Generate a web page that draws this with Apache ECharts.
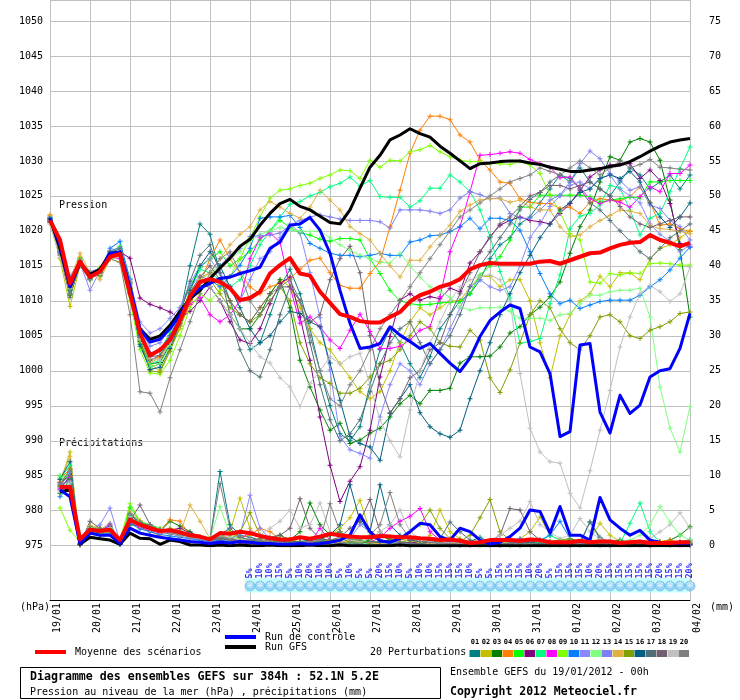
<!DOCTYPE html>
<html>
<head>
<meta charset="utf-8">
<script src="https://cdn.jsdelivr.net/npm/echarts@6/dist/echarts.min.js"></script>
<style>
  html, body { margin: 0; padding: 0; background: #fff; }
  #chart { width: 740px; height: 700px; }
</style>
</head>
<body>
<div id="chart"></div>
<script>
// time steps: every 6 h from 19/01 00h to 04/02 00h
const HOURS = Array.from({ length: 65 }, (_, i) => i * 6);
const DATE_LABELS = ['19/01', '20/01', '21/01', '22/01', '23/01', '24/01', '25/01', '26/01', '27/01',
  '28/01', '29/01', '30/01', '31/01', '01/02', '02/02', '03/02', '04/02'];

// pressure (hPa)
const MEAN_P = [1021.5, 1018.7, 1012.5, 1015.6, 1013.4, 1014.2, 1016.3, 1016.7,
  1011, 1005.4, 1002.2, 1003, 1004.4, 1007.2, 1010.6, 1012.7,
  1013.1, 1012.7, 1011.8, 1010.1, 1010.4, 1011.3, 1013.9, 1015.1,
  1016.1, 1013.9, 1013.6, 1011.3, 1009.7, 1008.1, 1007.7, 1007.1,
  1006.9, 1006.9, 1007.7, 1008.4, 1009.9, 1010.8, 1011.3, 1012,
  1012.4, 1013.1, 1014.5, 1015.1, 1015.4, 1015.3, 1015.3, 1015.3,
  1015.3, 1015.6, 1015.7, 1015.3, 1015.8, 1016.3, 1016.8, 1016.9,
  1017.5, 1018, 1018.3, 1018.4, 1019.4, 1018.7, 1018.3, 1017.8, 1018.3];
const GFS_P = [1021.8, 1017.5, 1012, 1015.4, 1013.8, 1014.5, 1016.8, 1016.6,
  1011, 1006, 1004.5, 1005, 1006.5, 1008.5, 1010.3, 1011.5,
  1013.2, 1014.7, 1016.1, 1017.8, 1018.8, 1020.8, 1022.5, 1023.9,
  1024.5, 1023.5, 1023, 1022.1, 1021.2, 1021, 1023, 1026.1,
  1029.1, 1030.8, 1033, 1033.7, 1034.6, 1033.9, 1033.4, 1032.1,
  1031.1, 1030, 1028.9, 1029.6, 1029.7, 1029.9, 1030, 1030,
  1029.7, 1029.5, 1029.1, 1028.8, 1028.5, 1028.5, 1028.7, 1028.9,
  1029.2, 1029.4, 1029.9, 1030.6, 1031.4, 1032.1, 1032.7, 1033, 1033.2];
const CONTROL_P = [1021.8, 1018, 1012, 1015.5, 1013.5, 1014.2, 1016.8, 1017,
  1012, 1006, 1004.1, 1004.5, 1006, 1008, 1010.5, 1011.8,
  1012.5, 1013.2, 1013.4, 1013.9, 1014.3, 1014.8, 1017.5, 1018.4,
  1020.8, 1021, 1021.9, 1020.1, 1016.8, 1011.5, 1006.8, 1003.2,
  1003.4, 1003.9, 1006.3, 1005.1, 1004.2, 1003.2, 1003.9, 1002.5,
  1001.1, 999.9, 1001.8, 1004.9, 1007.2, 1008.4, 1009.4, 1008.9,
  1003.4, 1002.7, 999.6, 990.6, 991.3, 1003.7, 1003.9, 994.1,
  991.1, 996.5, 993.9, 995.1, 999.1, 1000, 1000.3, 1003.2, 1008.2];

const P01 = [1022, 1017.5, 1011, 1015.8, 1013, 1014.5, 1017, 1017, 1011, 1003.5, 1000.5, 1001, 1004, 1008, 1015, 1021,
  1019.5, 1014, 1010, 1006, 1003, 1004, 1008, 1012, 1014.5,
  1011, 1006, 1000, 995, 991, 990, 992, 998,
  1003, 1006, 1004, 1001, 999, 1002, 1006, 1008,
  1010, 1011, 1013, 1016, 1018, 1019, 1021, 1022,
  1024, 1026, 1028, 1027, 1029, 1027, 1026, 1025,
  1027, 1029, 1028, 1026, 1027, 1028, 1026, 1028];
const P02 = [1021.2, 1016, 1009.2, 1015, 1014, 1013.5, 1016, 1016.5, 1012.5, 1006, 1001, 1000, 1003, 1006, 1010, 1013,
  1014, 1012, 1010, 1008, 1007, 1009, 1011, 1013, 1012,
  1009, 1006, 1004, 1003, 1001, 999, 997, 996,
  997, 1000, 1004, 1007, 1009, 1008, 1009, 1010,
  1010, 1012, 1013.5, 1013.5, 1012, 1013, 1013, 1010,
  1004, 999, 1005, 1008, 1010, 1011, 1013.5, 1012,
  1014, 1014, 1013, 1016, 1017.5, 1018, 1019, 1020];
const P03 = [1021.4, 1017, 1010.8, 1015.2, 1013.8, 1013.6, 1016.4, 1016.4, 1011.8, 1004.2, 1001, 1001.2, 1003.8, 1007.2, 1010.2, 1012.2,
  1012, 1010, 1008, 1006, 1006, 1008, 1011, 1013, 1009,
  1001.5, 997.7, 994.4, 991.5, 992.5, 989.6, 990.1, 991.1,
  991.8, 993.4, 995.3, 996.5, 995.3, 997.2, 997.2, 997.5,
  1001.1, 1002, 1002, 1002.1, 1003.4, 1005.4, 1006.3, 1008,
  1009.1, 1010.6, 1012.7, 1016.8, 1020.6, 1023, 1027, 1030.6,
  1030.1, 1032.7, 1033.2, 1032.7, 1030.1, 1024.4, 1017.3, 1007.7];
const P04 = [1022.3, 1017.5, 1012, 1016.2, 1013.5, 1013.8, 1016.5, 1016.8, 1012, 1004, 1001.5, 1002, 1004, 1006.5, 1009.5, 1012.5,
  1016, 1018.7, 1016, 1014, 1012, 1011, 1012, 1012.5, 1013.2,
  1014.5, 1015.8, 1016.1, 1014, 1012.2, 1011.8, 1011.8, 1013.9,
  1015.6, 1020.6, 1025.8, 1031.1, 1034.4, 1036.4, 1036.4, 1035.9,
  1033.7, 1032.7, 1030.1, 1028.7, 1027, 1026.8, 1024.6, 1024.1,
  1023.9, 1023.9, 1023.2, 1023.4, 1022.5, 1024.1, 1024.6, 1024.4,
  1024.3, 1024.9, 1026.3, 1024.1, 1020.8, 1021, 1020.3, 1019.9];
const P05 = [1021.5, 1017.3, 1013.3, 1016, 1013.4, 1014.4, 1016.9, 1017.8, 1013.2, 1005.6, 1002.5, 1002.8, 1005.5, 1008.5, 1012, 1014.8,
  1016, 1017, 1015, 1016, 1017, 1018.7, 1020, 1021.5, 1020.5,
  1019.7, 1019.4, 1018.8, 1018.5, 1018.9, 1018.9, 1018.7, 1016,
  1013.9, 1011.5, 1010, 1009.6, 1009.4, 1009.5, 1009.7, 1009.8,
  1009.9, 1011, 1013.7, 1015, 1016.3, 1018.7, 1023.4, 1023.4,
  1025.1, 1025.1, 1025.1, 1025.1, 1025.1, 1024.9, 1024.1, 1024.4,
  1024.6, 1024.8, 1024.7, 1027, 1027, 1027.2, 1027.2, 1027.2];
const P06 = [1021.4, 1017.2, 1012.8, 1015.6, 1013.5, 1014, 1016.5, 1017, 1016.1, 1010.4, 1009.5, 1009, 1008.4, 1007.5, 1008.5, 1010,
  1012, 1010, 1007, 1004.4, 1003.9, 1006, 1009.6, 1012.5, 1013.4,
  1007.7, 1001.5, 993.4, 986.5, 981.3, 984.2, 986.3, 991.5,
  999.1, 1004.9, 1010.1, 1011, 1010.1, 1010.6, 1010.3, 1011.8,
  1011.3, 1015.4, 1017, 1019.2, 1020.8, 1021.5, 1022, 1021.5,
  1021.3, 1021, 1022.5, 1023.9, 1025.8, 1027.7, 1028.7, 1029.4,
  1029.6, 1029.6, 1027.5, 1028.7, 1027.2, 1023.9, 1018.2, 1017.7];
const P07 = [1021.6, 1017.2, 1011.5, 1015, 1013.2, 1014, 1016.8, 1017.5, 1012.5, 1004.5, 1001, 1001.5, 1004, 1007.5, 1011.5, 1014.5,
  1014, 1013, 1012, 1013, 1015, 1018, 1020, 1022, 1023.8,
  1024.2, 1025, 1025.5, 1026.3, 1026.8, 1027.7, 1026.4, 1027.2,
  1024.9, 1024.8, 1024.8, 1023.4, 1024.3, 1026.1, 1026.1, 1028,
  1027, 1025.6, 1023, 1019.2, 1014.2, 1010.4, 1003.9, 1004.2,
  1004.6, 1009.6, 1013.7, 1020.3, 1022.1, 1022.5, 1023.7, 1026.5,
  1026.1, 1023, 1019.4, 1021.8, 1022.5, 1025.6, 1028.9, 1032];
const P08 = [1021.2, 1017, 1012.5, 1015.5, 1013.8, 1014.2, 1016.2, 1016, 1011.5, 1005.5, 1002.5, 1003, 1005, 1007, 1009.5, 1010.5,
  1008, 1007, 1008, 1010, 1016, 1019, 1019.7, 1018.4, 1012,
  1006.8, 1007.7, 1006.3, 1004.4, 1003.2, 1005.8, 1008.1, 1005.6,
  1003.2, 1003.2, 1003.5, 1004.4, 1005.8, 1006.3, 1010.6, 1017,
  1020.6, 1025.6, 1030.8, 1030.9, 1031.1, 1031.3, 1031.1, 1030.2,
  1029.6, 1029.1, 1027.6, 1027.7, 1026.1, 1024.6, 1023.9, 1024.4,
  1024.1, 1023.4, 1024.9, 1026.3, 1025.6, 1028.2, 1028.2, 1029.4];
const P09 = [1021, 1016.5, 1011.5, 1015.8, 1013, 1014.8, 1016, 1015.5, 1010, 1003, 999.7, 999.5, 1001.5, 1005, 1009, 1011,
  1010, 1011.5, 1013.5, 1016, 1019, 1022, 1024.7, 1025.8, 1026,
  1026.5, 1026.8, 1027.5, 1028, 1028.7, 1028.6, 1027.5, 1030.1,
  1029.1, 1030.1, 1030, 1031.3, 1031.6, 1032.2, 1031.3, 1030.6,
  1030.1, 1029.9, 1029.9, 1029.6, 1029.6, 1029.5, 1029.9, 1029.4,
  1028.2, 1025.1, 1022.7, 1019.6, 1018.7, 1012.7, 1012.5, 1013.9,
  1013.7, 1014, 1013.9, 1015.3, 1015.4, 1015.3, 1015.1, 1015.1];
const P10 = [1021.8, 1017, 1012.5, 1015.2, 1013.8, 1014.3, 1017.5, 1018.5, 1013, 1005, 1002.5, 1003, 1005, 1008, 1011, 1012.5,
  1013, 1012, 1013.5, 1015.1, 1017.5, 1021.8, 1022, 1022, 1022.2,
  1020.5, 1018.2, 1017.5, 1016.8, 1016.5, 1016.5, 1016.3, 1016.5,
  1016.8, 1016.5, 1016.5, 1018.4, 1018.7, 1019.3, 1019.4, 1019.9,
  1020.6, 1021.8, 1020.3, 1021.8, 1021.8, 1021.5, 1020.1, 1017,
  1013.9, 1011, 1009.6, 1010.1, 1008.9, 1009.4, 1009.9, 1010.1,
  1010.1, 1010.1, 1010.8, 1012, 1013, 1014.4, 1016.1, 1017.7];
const P11 = [1021.7, 1016.5, 1013.2, 1015.4, 1011.5, 1014.3, 1016.8, 1016.6, 1013, 1007, 1005.4, 1006, 1007.5, 1009, 1012.5, 1015,
  1016, 1014, 1012, 1010, 1013, 1016, 1017, 1019, 1021,
  1019.7, 1014, 1007.6, 1000.1, 990.6, 988.7, 988.2, 987.5,
  993.4, 998, 1001, 1000, 998, 1001, 1003, 1006,
  1009, 1012, 1013, 1012, 1011.5, 1012, 1015, 1019,
  1021, 1023.5, 1025, 1026.5, 1027, 1026, 1027.5, 1028,
  1026, 1025, 1024, 1021, 1019.5, 1018.5, 1017, 1018];
const P12 = [1021.3, 1017.2, 1012.2, 1015.5, 1013.6, 1014.1, 1016.6, 1016.3, 1011.5, 1004, 1000.5, 1001, 1003.5, 1007, 1010.5, 1013,
  1014, 1015, 1016, 1017, 1018.5, 1019.5, 1020, 1020.5, 1020.1,
  1020, 1019.9, 1020, 1019, 1018, 1017.2, 1016.5, 1016,
  1015.5, 1015.4, 1016.8, 1015, 1013.4, 1012, 1011.3, 1010.5,
  1009.1, 1008.7, 1009, 1009, 1009.1, 1008.5, 1007.5, 1007.5,
  1007.5, 1007.2, 1008, 1008.2, 1009.6, 1010.8, 1010.8, 1011.3,
  1011.5, 1011.5, 1011.8, 1007.7, 997.7, 991.8, 988.4, 994.9];
const P13 = [1021.9, 1017.8, 1013.5, 1015.8, 1014.2, 1014.6, 1017.2, 1017.6, 1012.8, 1006, 1003.5, 1004, 1006, 1009, 1012, 1013.5,
  1013, 1015, 1016.5, 1017.5, 1019.2, 1019.3, 1019.4, 1019.7, 1020.8,
  1021.5, 1022, 1022.3, 1022, 1021.7, 1021.5, 1021.5, 1021.5,
  1021.3, 1020.4, 1023, 1023, 1023, 1022.8, 1022.5, 1023,
  1024.7, 1025.6, 1025.2, 1024.6, 1024.7, 1022.5, 1021.8, 1021.8,
  1023, 1024.4, 1025.1, 1027, 1029.6, 1031.4, 1030.3, 1028.2,
  1027.2, 1025.8, 1026.3, 1023.7, 1023.2, 1021.5, 1020.6, 1018.7];
const P14 = [1022.2, 1017.8, 1013, 1016.8, 1014, 1013, 1016, 1016.3, 1011.7, 1004.7, 1001.2, 1001.8, 1004.4, 1007.8, 1011.3, 1013.3,
  1014, 1016, 1018, 1019.5, 1020.6, 1023, 1024.2, 1023.4, 1022.5,
  1021.8, 1023.4, 1025.8, 1024.4, 1023, 1020.6, 1019.6, 1018.7,
  1016.8, 1015, 1013.4, 1015.8, 1015.8, 1017.7, 1019.4, 1020.8,
  1022.8, 1023.7, 1024.4, 1024.6, 1024.6, 1024.1, 1024.4, 1023.4,
  1023, 1023, 1020.6, 1019.2, 1019.4, 1020.6, 1021.5, 1022.2,
  1023, 1022.8, 1022.5, 1020.8, 1020.3, 1020.2, 1019.9, 1019.6];
const P15 = [1021.7, 1017.4, 1012, 1015.3, 1013.1, 1014.2, 1016.6, 1016.5, 1011.6, 1004.4, 1000, 999.8, 1002.8, 1006.4, 1010, 1012.5,
  1013, 1011, 1009, 1008, 1007, 1008, 1010, 1012, 1010,
  1004, 1001, 999, 998.2, 996.8, 996.8, 997.5, 999.1,
  1001, 1001.5, 1003, 1005, 1007, 1006, 1004, 1003.5,
  1003.4, 1005.8, 1004.4, 999, 996.9, 1000.1, 1004, 1008,
  1010, 1009, 1006, 1004, 1003, 1005, 1007.7, 1008,
  1007, 1005, 1004.6, 1005.8, 1006.3, 1007, 1008.2, 1008.4];
const P16 = [1021.8, 1017.6, 1011.5, 1015.4, 1013.2, 1014, 1016.4, 1016.7, 1011.2, 1003.8, 1000.2, 1000.5, 1003.2, 1006.8, 1011.5, 1015,
  1017, 1015, 1012, 1009, 1006, 1004, 1005, 1007, 1008.5,
  1008.2, 1007, 1006.3, 1001.1, 995.8, 990.6, 989.6, 989.1,
  987.2, 993.9, 996, 998, 994, 992, 991, 990.5,
  991.5, 996, 1000, 1004, 1008, 1011, 1014, 1016.5,
  1019, 1021, 1023, 1024, 1025.5, 1026, 1027.5, 1028,
  1027.5, 1028.5, 1027, 1024, 1022, 1020.5, 1022, 1024];
const P17 = [1021.3, 1016.7, 1010.5, 1015.3, 1013.4, 1014.6, 1017, 1017.4, 1012.6, 1004.8, 1001.5, 1002.2, 1004.6, 1008, 1012.8, 1016.5,
  1018, 1014, 1008, 1003, 1000, 999.1, 1003, 1008, 1012,
  1010, 1004, 998, 993, 990, 991, 993, 997,
  1001, 1004, 1006, 1007, 1004, 1001, 1003, 1005,
  1008, 1012, 1015, 1017, 1019, 1021, 1023, 1024.5,
  1025.5, 1027, 1028, 1027.5, 1026, 1024, 1023, 1021.5,
  1020, 1018.5, 1017, 1016, 1017.5, 1019, 1020, 1021];
const P18 = [1021.6, 1017.3, 1012.3, 1015.7, 1013.7, 1014.3, 1016.7, 1016.8, 1012.3, 1005.2, 1002, 1002.2, 1004.3, 1007.3, 1011.2, 1013.4,
  1015, 1013, 1010, 1008, 1007, 1009, 1011, 1012, 1012,
  1010, 1007, 1008, 1013, 1016, 1017.8, 1014, 1005,
  998, 994, 996, 999, 1000, 1003, 1004, 1008,
  1011, 1014, 1017, 1019, 1021, 1022, 1023.5, 1025,
  1025.5, 1026.5, 1026.5, 1026, 1026.5, 1027, 1026, 1025,
  1023.5, 1022, 1021, 1020.5, 1021, 1021.5, 1022, 1022];
const P19 = [1021, 1016.2, 1011.8, 1015.2, 1013.3, 1013.8, 1016, 1016.2, 1011, 1004.5, 1001.8, 1001.5, 1004, 1007, 1010.5, 1012.5,
  1012, 1010, 1008, 1006, 1004, 1002, 1001.1, 999, 997.7,
  994.9, 998.2, 1000, 1002, 1001, 1002, 1002.5, 998,
  993, 990, 987.7, 994.4, 1000, 1004, 1007, 1010,
  1012, 1013, 1013.5, 1013.7, 1013, 1010, 999.6, 991.8,
  988.4, 987, 986.8, 982.5, 980.4, 985.7, 991.5, 997.2,
  1003.4, 1007.7, 1011, 1012.2, 1011.3, 1009.9, 1011, 1014.8];
const P20 = [1021.5, 1016.8, 1011, 1015, 1013, 1014.5, 1016, 1015.5, 1008, 997, 996.8, 994.1, 999, 1003, 1007, 1011,
  1014, 1016, 1017, 1014, 1010, 1008, 1010, 1012, 1013,
  1010, 1005, 1000, 996, 995, 998, 1000, 1003,
  1006, 1008, 1010, 1012, 1014, 1016, 1018, 1020,
  1022, 1023, 1024, 1025, 1026, 1027, 1027.5, 1028,
  1029, 1028.5, 1028, 1029, 1030, 1029, 1028, 1029,
  1030, 1029, 1029.5, 1030.2, 1029.1, 1029, 1028.8, 1028.7];

// precipitation (mm per 6 h), none at the first step
const MEAN_R = [null, 8.4, 8.4, 0.9, 2.3, 2.1, 2.3, 0.8, 3.7,
  3.0, 2.5, 2.1, 2.2, 1.9, 1.5, 1.3, 0.9,
  1.8, 1.7, 2.0, 1.8, 1.4, 1.1, 0.9, 0.9,
  1.2, 1.0, 1.3, 1.7, 1.5, 1.3, 1.2, 1.2,
  1.4, 1.3, 1.2, 1.2, 1.05, 1.0, 0.8, 0.9,
  0.7, 0.4, 0.5, 0.8, 0.8, 0.8, 0.7, 0.9,
  0.8, 0.5, 0.5, 0.5, 0.7, 0.5, 0.6, 0.6,
  0.4, 0.5, 0.6, 0.4, 0.4, 0.4, 0.5, 0.5];
const GFS_R = [null, 7.7, 8.0, 0.2, 1.2, 1.0, 0.8, 0.2, 1.8,
  1.05, 1.0, 0.2, 0.8, 0.6, 0.1, 0.1, 0,
  0.1, 0, 0.1, 0, 0, 0.1, 0, 0,
  0, 0.1, 0, 0, 0.1, 0, 0, 0,
  0, 0, 0.1, 0, 0, 0, 0, 0,
  0, 0, 0, 0, 0, 0, 0, 0,
  0, 0, 0, 0, 0, 0, 0, 0,
  0, 0, 0, 0, 0, 0, 0, 0];
const CONTROL_R = [null, 8, 7, 0.3, 1.8, 1.5, 1.5, 0.3, 2.5,
  1.8, 1.5, 1.2, 1.0, 0.8, 0.6, 0.5, 0.3,
  0.5, 0.4, 0.6, 0.5, 0.3, 0.3, 0.2, 0.2,
  0.3, 0.2, 0.3, 0.5, 0.8, 1.5, 4.4, 2.0,
  0.7, 0.5, 1.0, 2.0, 3.2, 3.0, 1.3, 0.8,
  2.5, 2.0, 0.8, 0.25, 0.5, 1.3, 2.5, 5.1,
  4.9, 1.8, 5.6, 1.5, 1.5, 0.8, 6.9, 3.7,
  2.5, 1.5, 2.2, 0.8, 0.5, 0.3, 0.4, 0.3];

const R01 = [null, 8.5, 10.5, 0.2, 2.5, 2.2, 2.8, 0.4, 4.5, 3.2, 2.6, 2.0, 2.4, 1.8, 1.4, 1.2, 0.8,
  10.6, 3, 1.5, 1.2, 0.8, 0.5, 0.4, 0.6, 0.5, 0.3, 0.8, 0.6, 0.4, 0.3, 0.5, 0.6,
  0.3, 0.2, 0.5, 0.8, 0.4, 0.3, 0.2, 0.4, 0.3, 0.6, 1.2, 0.5, 0.3, 0.8, 0.4, 0.3,
  0.2, 0.6, 0.5, 0.4, 0.3, 3.4, 1.0, 0.4, 0.3, 0.2, 0.5, 0.3, 0.2, 0.4, 0.3, 0.2];
const R02 = [null, 9, 13.4, 0.1, 2.8, 2.5, 2.0, 0.5, 3.5, 2.5, 2.0, 1.5, 2.5, 2.2, 1.6, 1.0, 0.6,
  1.2, 2.0, 6.8, 2.5, 1.0, 0.6, 0.4, 0.8, 0.6, 0.4, 0.8, 1.5, 2.5, 4.0, 6.5, 2.0,
  0.8, 0.5, 1.0, 0.6, 0.4, 1.5, 5.1, 2.0, 1.0, 0.5, 0.3, 0.6, 0.4, 0.3, 1.0, 2.0,
  4.1, 1.5, 0.8, 0.5, 0.6, 1.0, 3.2, 1.5, 0.6, 0.4, 0.3, 0.8, 0.5, 0.3, 0.6, 0.8];
const R03 = [null, 7.5, 9.5, 0.3, 2.0, 1.5, 2.5, 0.2, 3.0, 2.8, 2.2, 2.0, 3.5, 2.8, 2.0, 1.2, 1.0,
  1.5, 1.0, 0.8, 0.5, 0.3, 1.0, 1.5, 0.8, 2.0, 6.1, 3.0, 1.5, 2.0, 1.0, 0.5, 0.8,
  1.5, 0.8, 0.5, 0.3, 0.5, 0.8, 0.4, 0.3, 0.2, 0.5, 0.3, 0.4, 0.2, 0.3, 0.5, 0.4,
  0.3, 0.2, 0.4, 0.8, 0.6, 0.3, 0.2, 0.5, 0.8, 0.4, 0.3, 0.2, 0.5, 0.8, 1.5, 2.7];
const R04 = [null, 9.5, 11, 0.2, 2.3, 2.0, 1.8, 0.3, 3.8, 3.0, 2.5, 2.2, 3.7, 3.5, 1.5, 1.2, 1.0,
  1.5, 2.0, 1.2, 1.5, 2.5, 2.0, 1.0, 0.8, 0.5, 0.3, 0.5, 0.4, 0.3, 0.5, 0.6, 0.4,
  0.3, 0.2, 0.1, 0.1, 0.2, 0.3, 0.2, 0.1, 0.1, 0.2, 0.3, 0.2, 0.1, 0.1, 0.2, 0.3,
  0.2, 0.1, 0.2, 0.3, 0.5, 0.3, 0.2, 0.4, 0.5, 0.3, 0.2, 0.4, 0.6, 0.8, 0.5, 0.6];
const R05 = [null, 10, 9, 0.3, 2.0, 1.8, 2.2, 0.5, 5.5, 3.5, 3.0, 2.5, 2.0, 1.5, 1.2, 1.0, 0.8,
  1.0, 1.2, 0.8, 0.6, 0.5, 0.4, 0.3, 0.5, 0.3, 0.4, 0.6, 0.3, 0.2, 0.5, 0.8, 0.4,
  0.3, 1.0, 0.6, 0.3, 0.2, 0.3, 0.5, 0.2, 0.3, 0.2, 0.1, 0.3, 0.2, 0.1, 0.2, 0.3,
  0.2, 0.1, 0.3, 0.2, 0.1, 0.2, 0.3, 0.2, 0.1, 0.2, 0.3, 0.6, 0.2, 0.1, 0.2, 0.1];
const R06 = [null, 8, 10, 0.1, 2.2, 1.9, 2.6, 0.2, 4, 3, 3, 2, 2.2, 2.5, 1.8, 1.2, 0.5,
  0.8, 0.5, 0.4, 0.3, 0.6, 1.0, 0.5, 0.4, 0.3, 0.8, 1.2, 0.5, 0.6, 0.4, 0.3, 0.5,
  0.5, 0.3, 0.2, 0.4, 0.6, 0.4, 0.3, 0.2, 0.2, 0.3, 0.5, 0.4, 0.3, 0.2, 0.1, 0.2,
  0.3, 0.4, 0.2, 0.1, 0.2, 0.3, 0.2, 0.1, 0.2, 0.3, 0.2, 0.1, 0.2, 0.3, 0.2, 0.1];
const R07 = [null, 9.5, 11.5, 0.3, 2.6, 2.3, 2.4, 0.6, 4.2, 3.1, 2.5, 2.1, 1.9, 1.5, 1.2, 1.0, 0.7,
  1.5, 0.8, 0.6, 0.4, 0.3, 0.5, 0.4, 0.3, 0.2, 0.4, 0.3, 0.5, 0.3, 0.2, 0.4, 0.3,
  0.2, 0.3, 0.2, 0.1, 0.3, 0.2, 0.1, 0.2, 0.1, 0.2, 0.1, 0.2, 0.3, 0.2, 0.1, 0.3,
  0.5, 1.5, 0.8, 0.3, 0.2, 0.3, 0.4, 0.2, 0.3, 3.2, 6.1, 2.0, 0.5, 0.3, 0.2, 0.3];
const R08 = [null, 8.2, 9.8, 0.2, 2.4, 2.0, 3.0, 0.4, 3.3, 2.6, 2.2, 1.8, 2.0, 1.6, 1.4, 1.0, 0.8,
  1.6, 1.0, 0.8, 2.0, 1.5, 0.6, 0.4, 0.3, 0.5, 0.4, 2.5, 0.8, 0.5, 0.3, 0.2, 0.5,
  1.2, 2.5, 3.5, 4.2, 5.3, 2.0, 0.8, 0.5, 0.3, 0.2, 0.4, 0.3, 0.2, 0.3, 0.5, 0.3,
  0.2, 0.3, 0.2, 0.4, 0.3, 0.2, 0.1, 0.2, 0.3, 0.2, 0.1, 0.2, 0.3, 0.2, 0.1, 0.2];
const R09 = [null, 5.4, 2.2, 0.5, 2.8, 2.5, 2.0, 0.8, 6.0, 3.5, 2.8, 2.3, 2.0, 1.8, 1.5, 1.2, 1.0,
  1.5, 1.8, 1.0, 0.8, 0.5, 0.6, 0.8, 0.5, 0.4, 0.3, 0.5, 0.8, 0.6, 0.4, 0.3, 0.2,
  0.2, 0.3, 0.2, 0.1, 0.2, 0.3, 0.5, 0.3, 0.2, 0.1, 0.2, 0.3, 0.2, 0.1, 0.2, 0.4,
  0.3, 0.5, 0.8, 1.0, 0.6, 0.8, 0.5, 0.3, 0.2, 0.4, 0.3, 0.2, 0.3, 0.2, 0.4, 0.3];
const R10 = [null, 7, 8.5, 0.2, 2.0, 1.6, 1.8, 0.2, 3.2, 2.4, 2.0, 1.6, 1.4, 1.2, 1.0, 0.8, 0.6,
  0.8, 0.6, 0.5, 0.4, 0.3, 0.2, 0.3, 0.4, 0.3, 0.2, 0.4, 0.3, 0.2, 0.3, 0.2, 0.3,
  0.2, 0.3, 0.2, 0.1, 0.2, 0.3, 0.2, 0.1, 0.2, 0.1, 0.2, 0.1, 0.2, 0.3, 1.0, 0.5,
  0.8, 1.5, 3.5, 1.0, 0.5, 0.3, 0.2, 0.3, 0.2, 0.3, 0.2, 0.1, 0.2, 0.3, 0.5, 0.8];
const R11 = [null, 9, 10.5, 0.3, 2.2, 3.0, 5.4, 0.5, 4.0, 2.8, 2.4, 2.0, 1.8, 1.5, 1.2, 1.0, 0.8,
  1.2, 1.0, 1.5, 7.2, 2.5, 1.0, 0.6, 0.5, 0.4, 0.8, 0.5, 0.3, 0.5, 0.6, 0.4, 0.3,
  0.3, 0.2, 0.4, 0.3, 0.2, 0.3, 0.2, 0.1, 0.2, 0.1, 0.3, 0.2, 0.1, 0.2, 0.3, 0.2,
  0.1, 0.2, 0.3, 0.2, 0.1, 0.3, 0.2, 0.1, 0.2, 0.1, 0.2, 0.3, 0.2, 0.1, 0.2, 0.3];
const R12 = [null, 9.8, 10, 0.4, 2.6, 2.2, 2.5, 0.5, 4.5, 3.2, 2.8, 2.5, 2.0, 1.8, 1.5, 1.2, 0.9,
  5.6, 1.5, 1.0, 0.8, 0.6, 0.5, 0.4, 0.5, 0.3, 0.5, 0.4, 0.3, 0.2, 0.3, 0.4, 0.2,
  0.3, 0.5, 0.3, 0.2, 0.4, 0.3, 0.2, 0.3, 0.2, 0.3, 0.2, 0.1, 0.3, 0.2, 0.1, 0.2,
  0.3, 0.2, 0.1, 0.2, 0.3, 0.2, 0.3, 0.4, 0.5, 0.8, 1.5, 3.0, 5.6, 3.4, 1.5, 0.8];
const R13 = [null, 8.8, 9.2, 0.2, 2.3, 2.1, 2.6, 0.4, 3.6, 2.9, 2.3, 1.9, 1.7, 1.4, 1.1, 0.9, 0.7,
  0.9, 0.8, 0.6, 1.0, 0.5, 0.4, 0.3, 0.5, 0.4, 0.3, 0.6, 0.4, 0.3, 1.0, 3.0, 2.0,
  0.8, 0.5, 0.4, 0.3, 0.2, 0.4, 0.3, 0.2, 0.1, 0.2, 0.3, 0.2, 0.1, 0.2, 0.3, 0.2,
  0.4, 0.2, 0.1, 0.2, 0.3, 0.2, 0.1, 0.2, 0.3, 0.2, 0.4, 0.3, 0.2, 0.3, 0.2, 0.4];
const R14 = [null, 9.2, 12.8, 0.3, 2.9, 2.4, 2.1, 0.6, 4.8, 3.6, 2.7, 2.3, 2.1, 1.7, 5.8, 3.5, 1.0,
  1.3, 1.1, 0.9, 0.7, 0.8, 0.6, 0.5, 0.4, 0.6, 0.4, 0.5, 0.4, 0.5, 0.7, 0.5, 0.4,
  0.3, 0.5, 0.6, 0.8, 0.4, 0.3, 0.5, 0.4, 0.3, 0.2, 0.4, 0.3, 0.5, 0.4, 0.2, 0.3,
  0.2, 0.3, 0.4, 0.3, 0.2, 0.5, 0.8, 0.6, 0.4, 0.3, 0.5, 0.8, 0.5, 0.3, 0.4, 0.6];
const R15 = [null, 8.6, 11, 0.2, 2.5, 2.3, 2.2, 0.3, 4.1, 3.0, 2.6, 2.2, 1.9, 1.6, 1.3, 1.1, 0.8,
  1.0, 0.8, 2.0, 4.7, 1.5, 0.8, 0.5, 0.6, 0.4, 0.6, 0.5, 0.8, 1.0, 0.6, 0.5, 0.4,
  0.6, 0.8, 1.0, 2.0, 3.0, 5.1, 2.5, 1.0, 0.6, 1.5, 4.0, 6.6, 2.0, 0.8, 0.5, 0.3,
  0.4, 0.6, 0.8, 1.0, 0.5, 0.3, 0.4, 0.2, 0.3, 0.4, 0.2, 0.3, 0.5, 0.3, 0.2, 0.3];
const R16 = [null, 9.5, 12, 0.2, 2.4, 2.0, 2.7, 0.4, 4.4, 3.3, 2.7, 2.1, 1.8, 1.5, 1.3, 1.0, 0.7,
  1.5, 2.5, 1.2, 0.8, 0.6, 0.5, 0.7, 0.5, 0.6, 0.8, 1.0, 1.5, 3.0, 8.7, 3.5, 2.0,
  8.7, 3.0, 1.5, 0.8, 0.6, 0.5, 0.4, 0.6, 0.8, 0.5, 0.4, 0.3, 0.2, 0.4, 0.3, 0.5,
  0.3, 0.4, 0.6, 0.4, 0.3, 0.5, 0.3, 0.4, 0.2, 0.3, 0.4, 0.3, 0.2, 0.3, 0.4, 0.2];
const R17 = [null, 8.4, 9.6, 0.3, 2.1, 1.9, 2.3, 0.3, 3.9, 3.1, 2.5, 2.0, 1.7, 1.4, 1.2, 1.0, 0.8,
  1.2, 1.0, 0.7, 0.6, 0.5, 0.4, 0.3, 0.4, 0.5, 0.4, 0.6, 0.5, 0.3, 0.4, 0.3, 0.6,
  0.5, 0.4, 0.3, 0.2, 0.3, 0.5, 1.0, 3.4, 2.0, 0.8, 0.5, 0.3, 0.2, 0.3, 0.4, 0.3,
  0.2, 0.3, 0.4, 0.3, 0.5, 3.4, 1.2, 0.5, 0.3, 0.2, 0.3, 0.4, 0.3, 0.2, 0.3, 0.4];
const R18 = [null, 9, 10, 0.2, 3.5, 2.5, 2.3, 0.3, 3.6, 5.8, 3.0, 2.2, 1.8, 1.5, 1.2, 1.0, 0.8,
  1.0, 0.8, 0.6, 0.8, 1.0, 1.2, 1.5, 2.5, 6.7, 2.5, 1.0, 0.8, 1.2, 2.5, 3.5, 6.6,
  2.0, 0.8, 0.5, 0.4, 0.3, 0.5, 0.4, 0.3, 0.2, 0.4, 0.3, 0.5, 1.5, 5.3, 5.1, 2.0,
  0.8, 0.4, 0.3, 0.2, 0.3, 0.4, 0.2, 0.3, 0.4, 0.3, 0.2, 0.3, 0.4, 0.3, 0.2, 0.3];
const R19 = [null, 7.8, 9, 0.3, 2.2, 2.0, 2.6, 0.4, 4.2, 3.0, 2.4, 2.0, 1.8, 1.4, 1.2, 1.0, 0.7,
  1.5, 1.2, 0.8, 1.0, 1.5, 2.5, 3.5, 5.1, 2.5, 3.0, 6.1, 2.0, 1.0, 0.8, 0.6, 1.0,
  2.0, 3.0, 5.1, 2.0, 1.0, 0.6, 0.4, 0.5, 0.4, 0.3, 0.5, 0.8, 1.5, 2.5, 3.5, 6.3,
  3.0, 2.0, 1.0, 1.5, 3.9, 2.0, 1.0, 0.6, 0.5, 0.4, 0.6, 1.0, 2.0, 3.0, 4.7, 2.5];
const R20 = [null, 8.8, 10.8, 0.2, 2.7, 2.2, 3.2, 0.5, 4.6, 3.4, 2.8, 2.3, 2.0, 1.6, 1.3, 1.1, 0.9,
  8.9, 2.5, 1.2, 0.9, 0.7, 0.6, 0.5, 0.4, 0.5, 0.6, 0.8, 6.0, 2.0, 1.0, 0.8, 1.5,
  3.0, 7.6, 3.0, 1.0, 0.6, 0.5, 0.4, 0.3, 0.4, 0.3, 0.5, 0.4, 0.3, 0.2, 0.4, 0.3,
  0.2, 0.3, 0.2, 0.4, 0.3, 0.2, 0.3, 0.2, 0.3, 0.2, 0.4, 0.3, 0.2, 0.3, 0.2, 0.3];

const PERT_P = [P01, P02, P03, P04, P05, P06, P07, P08, P09, P10, P11, P12, P13, P14, P15, P16, P17, P18, P19, P20];
const PERT_R = [R01, R02, R03, R04, R05, R06, R07, R08, R09, R10, R11, R12, R13, R14, R15, R16, R17, R18, R19, R20];
const PERT_NAMES = ['01', '02', '03', '04', '05', '06', '07', '08', '09', '10',
  '11', '12', '13', '14', '15', '16', '17', '18', '19', '20'];
const PERT_COLORS = ['#008080', '#c0c000', '#008000', '#ff8000', '#00ff00', '#800080', '#00ff80', '#ff00ff',
  '#80ff00', '#0080ff', '#8888ff', '#80ff80', '#8080f4', '#e0b040', '#80a000', '#006080',
  '#507078', '#706070', '#c0c0c0', '#808080'];

// snow probability (%) every 6 h from 24/01 00h (120 h)
const SNOW_START = 120;
const SNOW_PCT = [5, 10, 10, 15, 5, 10, 20, 10, 10, 5, 10, 5, 5, 20, 15, 10, 5, 10, 10, 15, 15, 15, 10,
  5, 5, 15, 15, 15, 10, 20, 5, 15, 15, 15, 10, 20, 15, 15, 15, 15, 15, 20, 15, 15, 20];

const MONO = '"DejaVu Sans Mono", monospace';
const PLUS = 'path://M2,0h1v2h2v1h-2v2h-1v-2h-2v-1h2z';

function pairs(vals) {
  return vals.map((v, i) => [HOURS[i], v]);
}

function thinLine(name, color, vals, yAxisIndex) {
  return {
    name, type: 'line', xAxisIndex: 0, yAxisIndex,
    data: pairs(vals), color,
    symbol: PLUS, symbolSize: 5, showSymbol: true,
    lineStyle: { width: 1, color },
    silent: true, z: 2
  };
}

function thickLine(name, color, width, vals, yAxisIndex, z) {
  return {
    name, type: 'line', xAxisIndex: 0, yAxisIndex,
    data: pairs(vals), color,
    symbol: 'none',
    lineStyle: { width, color, join: 'round' },
    silent: true, z
  };
}

const series = [];
PERT_P.forEach((vals, i) => series.push(thinLine('P' + PERT_NAMES[i], PERT_COLORS[i], vals, 0)));
PERT_R.forEach((vals, i) => series.push(thinLine('R' + PERT_NAMES[i], PERT_COLORS[i], vals, 1)));
series.push(thickLine('GFS', '#000000', 3, GFS_P, 0, 4));
series.push(thickLine('GFS_R', '#000000', 3, GFS_R, 1, 4));
series.push(thickLine('Controle', '#0000ff', 3, CONTROL_P, 0, 5));
series.push(thickLine('Controle_R', '#0000ff', 3, CONTROL_R, 1, 5));
series.push(thickLine('Moyenne', '#ff0000', 4, MEAN_P, 0, 6));
series.push(thickLine('Moyenne_R', '#ff0000', 4, MEAN_R, 1, 6));

// snow strip: icons on a light band, probability above
series.push({
  type: 'scatter', xAxisIndex: 1, yAxisIndex: 2, silent: true, z: 3,
  data: SNOW_PCT.map((p, i) => [SNOW_START + i * 6, 14, p]),
  symbol: 'circle', symbolSize: 10,
  itemStyle: { color: '#84c8f4', borderColor: '#3e9fe0', borderWidth: 1, borderType: 'dotted' },
  label: {
    show: true, position: 'inside', formatter: '\u2744',
    fontFamily: 'DejaVu Sans', fontSize: 9, color: '#ffffff'
  },
  markArea: {
    silent: true,
    itemStyle: { color: '#c8ffff' },
    data: [[{ xAxis: SNOW_START - 3, yAxis: 7.5 }, { xAxis: 384, yAxis: 22 }]]
  }
});
series.push({
  type: 'scatter', xAxisIndex: 1, yAxisIndex: 2, silent: true, z: 3,
  data: SNOW_PCT.map((p, i) => [SNOW_START + i * 6, 21.5, p]),
  symbolSize: 0,
  label: {
    show: true, position: 'inside', rotate: 90, align: 'left', verticalAlign: 'middle',
    formatter: (p) => p.value[2] + '%',
    fontFamily: MONO, fontSize: 8.5, fontWeight: 'bold', color: '#0000ff'
  }
});

// legend and captions
const graphic = [
  { type: 'text', style: { x: 59, y: 205, text: 'Pression', font: '10px ' + MONO, fill: '#000', verticalAlign: 'middle' } },
  { type: 'text', style: { x: 59, y: 443, text: 'Précipitations', font: '10px ' + MONO, fill: '#000', verticalAlign: 'middle' } },
  { type: 'text', style: { x: 20, y: 607, text: '(hPa)', font: '10px ' + MONO, fill: '#000', verticalAlign: 'middle' } },
  { type: 'text', style: { x: 710, y: 607, text: '(mm)', font: '10px ' + MONO, fill: '#000', verticalAlign: 'middle' } },
  { type: 'rect', shape: { x: 35, y: 650, width: 31, height: 4 }, style: { fill: '#ff0000' } },
  { type: 'text', style: { x: 75, y: 652, text: 'Moyenne des scénarios', font: '10px ' + MONO, fill: '#000', verticalAlign: 'middle' } },
  { type: 'rect', shape: { x: 225, y: 635, width: 31, height: 4 }, style: { fill: '#0000ff' } },
  { type: 'text', style: { x: 265, y: 637, text: 'Run de contrôle', font: '10px ' + MONO, fill: '#000', verticalAlign: 'middle' } },
  { type: 'rect', shape: { x: 225, y: 645, width: 31, height: 4 }, style: { fill: '#000000' } },
  { type: 'text', style: { x: 265, y: 647, text: 'Run GFS', font: '10px ' + MONO, fill: '#000', verticalAlign: 'middle' } },
  { type: 'text', style: { x: 370, y: 652, text: '20 Perturbations', font: '10px ' + MONO, fill: '#000', verticalAlign: 'middle' } },
  { type: 'rect', shape: { x: 20.5, y: 667.5, width: 420, height: 31 }, style: { fill: 'none', stroke: '#000', lineWidth: 1 } },
  { type: 'text', style: { x: 30, y: 677, text: 'Diagramme des ensembles GEFS sur 384h : 52.1N 5.2E', font: 'bold 11.6px ' + MONO, fill: '#000', verticalAlign: 'middle' } },
  { type: 'text', style: { x: 30, y: 692, text: 'Pression au niveau de la mer (hPa) , précipitations (mm)', font: '10px ' + MONO, fill: '#000', verticalAlign: 'middle' } },
  { type: 'text', style: { x: 450, y: 672, text: 'Ensemble GEFS du 19/01/2012 - 00h', font: '10px ' + MONO, fill: '#000', verticalAlign: 'middle' } },
  { type: 'text', style: { x: 450, y: 692, text: 'Copyright 2012 Meteociel.fr', font: 'bold 11.5px ' + MONO, fill: '#000', verticalAlign: 'middle' } }
];
PERT_NAMES.forEach((n, i) => {
  graphic.push({ type: 'text', style: { x: 475 + 11 * i, y: 642, text: n, font: 'bold 7px ' + MONO, fill: '#000', align: 'center', verticalAlign: 'middle' } });
  graphic.push({ type: 'rect', shape: { x: 469.5 + 11 * i, y: 650, width: 10.5, height: 7 }, style: { fill: PERT_COLORS[i] } });
});

const gridLine = { show: true, lineStyle: { color: '#c0c0c0', width: 1 } };

const option = {
  animation: false,
  backgroundColor: '#ffffff',
  grid: [
    { left: 50, right: 50, top: -1, height: 546.7 },
    { left: 50, right: 50, top: 545.7, height: 54.3 }
  ],
  xAxis: [
    {
      type: 'value', gridIndex: 0, min: 0, max: 384, interval: 24,
      axisLine: { show: false }, axisTick: { show: false }, axisLabel: { show: false },
      splitLine: gridLine
    },
    {
      type: 'value', gridIndex: 1, min: 0, max: 384, interval: 24,
      axisLine: { show: true, lineStyle: { color: '#000', width: 1 } },
      axisTick: { show: false },
      axisLabel: {
        rotate: 90, margin: 3, verticalAlign: 'top', padding: [2, 0, 0, 0],
        fontFamily: MONO, fontSize: 10, color: '#000',
        formatter: (v) => DATE_LABELS[Math.round(v / 24)]
      },
      splitLine: gridLine
    }
  ],
  yAxis: [
    {
      type: 'value', gridIndex: 0, min: 975, max: 1053, interval: 5,
      axisLine: { show: false }, axisTick: { show: false },
      axisLabel: {
        margin: 7, fontFamily: MONO, fontSize: 10, color: '#000',
        formatter: (v) => (v % 5 === 0 && v <= 1050 ? String(v) : '')
      },
      splitLine: gridLine
    },
    {
      type: 'value', gridIndex: 0, position: 'right', min: 0, max: 78, interval: 5,
      axisLine: { show: false }, axisTick: { show: false },
      axisLabel: {
        margin: 19, fontFamily: MONO, fontSize: 10, color: '#000',
        formatter: (v) => (v % 5 === 0 && v <= 75 ? String(v) : '')
      },
      splitLine: { show: false }
    },
    {
      type: 'value', gridIndex: 1, min: 0, max: 54.3, show: false
    }
  ],
  graphic,
  series
};

const chart = echarts.init(document.getElementById('chart'), null, { renderer: 'canvas' });
chart.setOption(option);
</script>
</body>
</html>
